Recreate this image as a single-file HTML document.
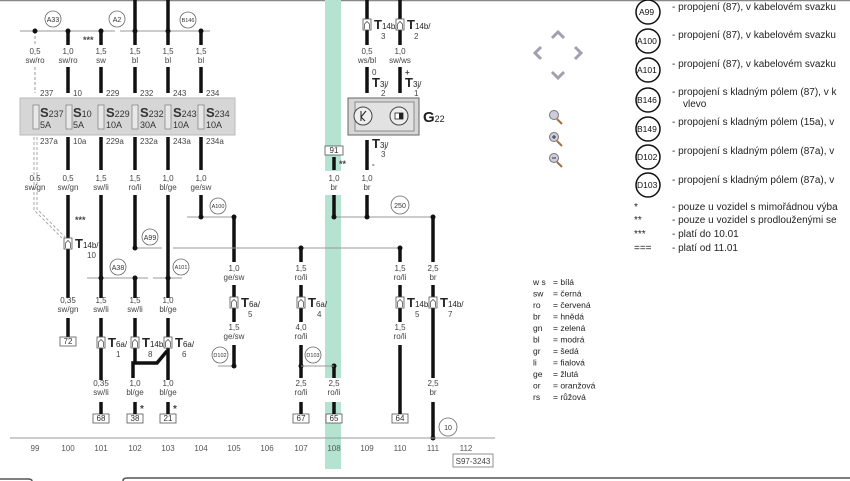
<!DOCTYPE html>
<html><head><meta charset="utf-8"><style>
html,body{margin:0;padding:0;background:#fff;width:850px;height:481px;overflow:hidden}
svg{display:block;font-family:"Liberation Sans",sans-serif}
.w{stroke:#111;stroke-width:3.5;fill:none}
.t{stroke:#999;stroke-width:1;fill:none}
.l{font-size:8px;fill:#444;text-anchor:middle}
.s{font-size:8px;fill:#444}
.c{fill:#fff;stroke:#666;stroke-width:0.8}
.ct{font-size:7px;fill:#333;text-anchor:middle}
.g{font-size:10px;fill:#222}
.k{font-size:10px;fill:#222}
</style></head><body>
<svg width="850" height="481" viewBox="0 0 850 481">
<defs>
<g id="T"><rect x="-4" y="-6" width="8" height="11" fill="#fff" stroke="#555" stroke-width="0.8"/><path d="M-2.5 4V-1L0-3.5L2.5-1V4" fill="none" stroke="#555" stroke-width="0.8"/></g>
</defs>
<line x1="0" y1="0.5" x2="850" y2="0.5" stroke="#888" stroke-width="1.5"/>
<rect x="325" y="0" width="16" height="171" fill="#b5e3d1"/>
<rect x="325" y="195" width="16" height="183" fill="#b5e3d1"/>
<rect x="325" y="402" width="16" height="67" fill="#b5e3d1"/>

<line x1="20" y1="31" x2="115" y2="31" class="t"/>
<line x1="120" y1="31" x2="210" y2="31" class="t"/>
<circle cx="53" cy="19" r="8" class="c"/><text x="53" y="22" class="ct">A33</text>
<circle cx="117" cy="19" r="8" class="c"/><text x="117" y="22" class="ct">A2</text>
<circle cx="188" cy="20" r="8" class="c"/><text x="188" y="22" class="ct" style="font-size:5.5px">B146</text>
<path d="M35 31V45 M35 67V93" stroke="#999" stroke-width="1" stroke-dasharray="3 2" fill="none"/>
<path d="M68 31V45 M68 67V93 M101 31V45 M101 67V93 M135 0V45 M135 67V93 M168 0V45 M168 67V93 M201 31V45 M201 67V93" class="w"/>
<g fill="#111"><circle cx="35" cy="31" r="2.5"/><circle cx="68" cy="31" r="2.5"/><circle cx="101" cy="31" r="2.5"/><circle cx="135" cy="31" r="2.5"/><circle cx="168" cy="31" r="2.5"/><circle cx="201" cy="31" r="2.5"/></g>
<text x="83" y="43" class="s" style="font-size:9px;font-weight:bold">***</text>
<g class="l"><text x="35" y="54">0,5</text><text x="35" y="63">sw/ro</text><text x="68" y="54">1,0</text><text x="68" y="63">sw/ro</text><text x="101" y="54">1,5</text><text x="101" y="63">sw</text><text x="135" y="54">1,5</text><text x="135" y="63">bl</text><text x="168" y="54">1,5</text><text x="168" y="63">bl</text><text x="201" y="54">1,5</text><text x="201" y="63">bl</text></g>
<g class="s"><text x="40" y="96">237</text><text x="73" y="96">10</text><text x="106" y="96">229</text><text x="140" y="96">232</text><text x="173" y="96">243</text><text x="206" y="96">234</text>
<text x="40" y="144">237a</text><text x="73" y="144">10a</text><text x="106" y="144">229a</text><text x="140" y="144">232a</text><text x="173" y="144">243a</text><text x="206" y="144">234a</text></g>
<rect x="20" y="98" width="215" height="37" fill="#d6d6d6" stroke="#bbb"/>
<g fill="#e8e8e8" stroke="#888" stroke-width="0.8"><rect x="33" y="105" width="6" height="24"/><rect x="66" y="105" width="6" height="24"/><rect x="98" y="105" width="6" height="24"/><rect x="132" y="105" width="6" height="24"/><rect x="165" y="105" width="6" height="24"/><rect x="198" y="105" width="6" height="24"/></g>
<g fill="#333"><text x="40" y="117" style="font-size:13px;font-weight:bold">S<tspan style="font-size:9px;font-weight:normal">237</tspan></text><text x="73" y="117" style="font-size:13px;font-weight:bold">S<tspan style="font-size:9px;font-weight:normal">10</tspan></text><text x="106" y="117" style="font-size:13px;font-weight:bold">S<tspan style="font-size:9px;font-weight:normal">229</tspan></text><text x="140" y="117" style="font-size:13px;font-weight:bold">S<tspan style="font-size:9px;font-weight:normal">232</tspan></text><text x="173" y="117" style="font-size:13px;font-weight:bold">S<tspan style="font-size:9px;font-weight:normal">243</tspan></text><text x="206" y="117" style="font-size:13px;font-weight:bold">S<tspan style="font-size:9px;font-weight:normal">234</tspan></text>
<g style="font-size:9px"><text x="40" y="128">5A</text><text x="73" y="128">5A</text><text x="106" y="128">10A</text><text x="140" y="128">30A</text><text x="173" y="128">10A</text><text x="206" y="128">10A</text></g></g>
<path d="M34 137V210 L62 238 M37 137V209 L65 237" stroke="#aaa" stroke-width="1" stroke-dasharray="3 2" fill="none"/>
<path d="M68 137V170 M101 137V170 M135 137V170 M168 137V170 M201 137V170" class="w"/>
<g class="l"><text x="35" y="181">0.5</text><text x="35" y="190">sw/gn</text><text x="68" y="181">0,5</text><text x="68" y="190">sw/gn</text><text x="101" y="181">1,5</text><text x="101" y="190">sw/li</text><text x="135" y="181">1,5</text><text x="135" y="190">ro/li</text><text x="168" y="181">1,0</text><text x="168" y="190">bl/ge</text><text x="201" y="181">1,0</text><text x="201" y="190">ge/sw</text></g>
<path d="M68 195V298 M68 318V338 M101 195V298 M101 318V380 M135 195V248 M135 278V298 M135 318V363 M168 195V298 M168 318V380 M201 195V217 M234 217V262 M234 285V322 M234 345V366" class="w"/>
<path d="M133 378V363H157L167 351" class="w" stroke-width="3"/>
<text x="75" y="223" class="s" style="font-size:9px;font-weight:bold">***</text>
<line x1="135" y1="248" x2="162" y2="248" class="t"/><line x1="173" y1="248" x2="400" y2="248" class="t"/>
<line x1="187" y1="217" x2="234" y2="217" class="t"/>
<line x1="87" y1="278" x2="148" y2="278" class="t"/><line x1="153" y1="278" x2="182" y2="278" class="t"/>
<line x1="218" y1="366" x2="234" y2="366" class="t"/>
<g fill="#111"><circle cx="135" cy="248" r="2.5"/><circle cx="201" cy="217" r="2.5"/><circle cx="234" cy="217" r="2.5"/><circle cx="101" cy="278" r="2.5"/><circle cx="135" cy="278" r="2.5"/><circle cx="168" cy="278" r="2.5"/><circle cx="234" cy="366" r="2.5"/></g>
<circle cx="150" cy="237" r="8" class="c"/><text x="150" y="240" class="ct">A99</text>
<circle cx="218" cy="206" r="8" class="c"/><text x="218" y="208" class="ct" style="font-size:5.5px">A100</text>
<circle cx="118" cy="267" r="8" class="c"/><text x="118" y="270" class="ct">A38</text>
<circle cx="181" cy="267" r="8" class="c"/><text x="181" y="269" class="ct" style="font-size:5.5px">A101</text>
<circle cx="220" cy="355" r="8" class="c"/><text x="220" y="357" class="ct" style="font-size:5.5px">D102</text>
<use href="#T" x="68" y="244"/><text x="75" y="248" class="g" style="font-size:13px;font-weight:bold">T<tspan style="font-size:8px;font-weight:normal">14b/</tspan></text><text x="87" y="258" class="s">10</text>
<g class="l"><text x="68" y="303">0,35</text><text x="68" y="312">sw/gn</text><text x="101" y="303">1,5</text><text x="101" y="312">sw/li</text><text x="135" y="303">1,5</text><text x="135" y="312">sw/li</text><text x="168" y="303">1,0</text><text x="168" y="312">bl/ge</text><text x="234" y="271">1,0</text><text x="234" y="280">ge/sw</text><text x="234" y="330">1,5</text><text x="234" y="339">ge/sw</text></g>
<g fill="#fff" stroke="#555" stroke-width="0.8"><rect x="60" y="337" width="16" height="9"/><rect x="93" y="414" width="16" height="9"/><rect x="127" y="414" width="16" height="9"/><rect x="160" y="414" width="16" height="9"/><rect x="293" y="414" width="16" height="9"/><rect x="326" y="414" width="16" height="9"/><rect x="392" y="414" width="16" height="9"/><rect x="325" y="146" width="18" height="9"/></g>
<g class="l" style="font-size:8px;fill:#333"><text x="68" y="344">72</text><text x="101" y="421">68</text><text x="135" y="421">38</text><text x="168" y="421">21</text><text x="301" y="421">67</text><text x="334" y="421">65</text><text x="400" y="421">64</text><text x="334" y="153">91</text></g>
<use href="#T" x="101" y="343"/><text x="108" y="347" style="font-size:13px;font-weight:bold" fill="#222">T<tspan style="font-size:8px;font-weight:normal">6a/</tspan></text><text x="116" y="357" class="s">1</text>
<use href="#T" x="135" y="343"/><text x="142" y="347" style="font-size:13px;font-weight:bold" fill="#222">T<tspan style="font-size:8px;font-weight:normal">14b/</tspan></text><text x="148" y="357" class="s">8</text>
<use href="#T" x="168" y="343"/><text x="175" y="347" style="font-size:13px;font-weight:bold" fill="#222">T<tspan style="font-size:8px;font-weight:normal">6a/</tspan></text><text x="182" y="357" class="s">6</text>
<use href="#T" x="234" y="303"/><text x="241" y="307" style="font-size:13px;font-weight:bold" fill="#222">T<tspan style="font-size:8px;font-weight:normal">6a/</tspan></text><text x="248" y="317" class="s">5</text>
<g class="l"><text x="101" y="386">0,35</text><text x="101" y="395">sw/li</text><text x="135" y="386">1,0</text><text x="135" y="395">bl/ge</text><text x="168" y="386">1,0</text><text x="168" y="395">bl/ge</text></g>
<path d="M101 402V414 M135 402V414 M168 402V414" class="w"/>
<text x="140" y="412" class="s" style="font-size:10px;font-weight:bold">*</text><text x="173" y="412" class="s" style="font-size:10px;font-weight:bold">*</text>

<path d="M367 0V45 M367 67V93 M400 0V45 M400 67V93 M367 140V170 M367 195V217 M334 157V170 M334 195V217" class="w"/>
<use href="#T" x="367" y="25"/><text x="374" y="29" style="font-size:13px;font-weight:bold" fill="#222">T<tspan style="font-size:8px;font-weight:normal">14b/</tspan></text><text x="381" y="39" class="s">3</text>
<use href="#T" x="400" y="25"/><text x="407" y="29" style="font-size:13px;font-weight:bold" fill="#222">T<tspan style="font-size:8px;font-weight:normal">14b/</tspan></text><text x="414" y="39" class="s">2</text>
<g class="l"><text x="367" y="54">0,5</text><text x="367" y="63">ws/bl</text><text x="400" y="54">1,0</text><text x="400" y="63">sw/ws</text><text x="334" y="181">1,0</text><text x="334" y="190">br</text><text x="367" y="181">1,0</text><text x="367" y="190">br</text></g>
<text x="372" y="75" class="s">0</text><text x="405" y="75" class="s" style="font-weight:bold">+</text>
<text x="372" y="87" style="font-size:13px;font-weight:bold" fill="#222">T<tspan style="font-size:8px;font-weight:normal">3j/</tspan></text><text x="381" y="96" class="s">2</text>
<text x="405" y="87" style="font-size:13px;font-weight:bold" fill="#222">T<tspan style="font-size:8px;font-weight:normal">3j/</tspan></text><text x="414" y="96" class="s">1</text>
<rect x="348" y="98" width="71" height="37" fill="#d6d6d6" stroke="#666"/>
<rect x="355" y="102" width="59" height="29" fill="#e2e2e2" stroke="#777" stroke-width="0.8"/>
<circle cx="363" cy="116" r="9" fill="#eee" stroke="#444"/><path d="M361 111V121 M361 117L366 111 M361 117L365 121" stroke="#222" fill="none"/>
<circle cx="399" cy="116" r="9" fill="#eee" stroke="#444"/><rect x="395" y="113" width="8" height="6" fill="#fff" stroke="#222" stroke-width="0.8"/><rect x="399" y="113" width="4" height="6" fill="#222"/>
<text x="423" y="122" style="font-size:15px;font-weight:bold" fill="#222">G<tspan style="font-size:9px;font-weight:normal">22</tspan></text>
<text x="372" y="148" style="font-size:13px;font-weight:bold" fill="#222">T<tspan style="font-size:8px;font-weight:normal">3j/</tspan></text><text x="381" y="157" class="s">3</text>
<text x="372" y="167" class="s" style="font-weight:bold">-</text>
<text x="339" y="167" class="s" style="font-size:9px;font-weight:bold">**</text>
<line x1="334" y1="217" x2="433" y2="217" class="t"/>
<circle cx="400" cy="205" r="9" class="c"/><text x="400" y="208" class="ct">250</text>
<g fill="#111"><circle cx="334" cy="217" r="2.5"/><circle cx="367" cy="217" r="2.5"/><circle cx="433" cy="217" r="2.5"/><circle cx="301" cy="248" r="2.5"/><circle cx="400" cy="248" r="2.5"/><circle cx="301" cy="366" r="2.5"/><circle cx="334" cy="366" r="2.5"/><circle cx="433" cy="438" r="2.5"/></g>
<path d="M301 248V262 M301 285V322 M301 345V378 M301 402V414 M334 366V378 M334 402V414 M400 248V262 M400 285V322 M400 345V414 M433 217V262 M433 285V378 M433 402V438" class="w"/>
<line x1="301" y1="366" x2="334" y2="366" class="t"/>
<circle cx="313" cy="355" r="8" class="c"/><text x="313" y="357" class="ct" style="font-size:5.5px">D103</text>
<g class="l"><text x="301" y="271">1,5</text><text x="301" y="280">ro/li</text><text x="400" y="271">1,5</text><text x="400" y="280">ro/li</text><text x="433" y="271">2,5</text><text x="433" y="280">br</text>
<text x="301" y="330">4,0</text><text x="301" y="339">ro/li</text><text x="400" y="330">1,5</text><text x="400" y="339">ro/li</text>
<text x="301" y="386">2,5</text><text x="301" y="395">ro/li</text><text x="334" y="386">2,5</text><text x="334" y="395">ro/li</text><text x="433" y="386">2,5</text><text x="433" y="395">br</text></g>
<use href="#T" x="301" y="303"/><text x="308" y="307" style="font-size:13px;font-weight:bold" fill="#222">T<tspan style="font-size:8px;font-weight:normal">6a/</tspan></text><text x="317" y="317" class="s">4</text>
<use href="#T" x="400" y="303"/><text x="407" y="307" style="font-size:13px;font-weight:bold" fill="#222">T<tspan style="font-size:8px;font-weight:normal">14b/</tspan></text><text x="415" y="317" class="s">5</text>
<use href="#T" x="433" y="303"/><text x="440" y="307" style="font-size:13px;font-weight:bold" fill="#222">T<tspan style="font-size:8px;font-weight:normal">14b/</tspan></text><text x="448" y="317" class="s">7</text>
<circle cx="448" cy="427" r="9" class="c"/><text x="448" y="430" class="ct">10</text>
<line x1="10" y1="438" x2="495" y2="438" stroke="#999" stroke-width="1"/>
<g class="l" style="fill:#555"><text x="35" y="451">99</text><text x="68" y="451">100</text><text x="101" y="451">101</text><text x="135" y="451">102</text><text x="168" y="451">103</text><text x="201" y="451">104</text><text x="234" y="451">105</text><text x="267" y="451">106</text><text x="301" y="451">107</text><text x="334" y="451">108</text><text x="367" y="451">109</text><text x="400" y="451">110</text><text x="433" y="451">111</text><text x="466" y="451">112</text></g>
<rect x="453" y="454" width="40" height="13" fill="#fff" stroke="#777" stroke-width="0.8"/><text x="473" y="464" class="l" style="fill:#444">S97-3243</text>
<path d="M0 479H28Q32 479 32 481 M123 481Q123 478 127 478H850" stroke="#555" stroke-width="1.5" fill="none"/>

<g stroke="#a0a0b0" stroke-width="3" fill="none"><path d="M552 38L558 32L564 38"/><path d="M541 47L535 53L541 59"/><path d="M575 47L581 53L575 59"/><path d="M552 72L558 78L564 72"/></g>
<g stroke="#777" fill="#ccd"><circle cx="554" cy="115" r="4.5"/><circle cx="554" cy="137" r="4.5"/><circle cx="554" cy="158" r="4.5"/></g>
<g stroke="#a07040" stroke-width="2"><path d="M557 119L562 124M557 141L562 146M557 162L562 167"/></g>
<path d="M552 137H556M554 135V139M552 158H556" stroke="#333" stroke-width="1"/>
<g fill="#fff" stroke="#111" stroke-width="1.5"><circle cx="648" cy="12" r="12"/><circle cx="648" cy="41" r="12"/><circle cx="648" cy="70" r="12"/><circle cx="648" cy="100" r="12"/><circle cx="648" cy="129" r="12"/><circle cx="648" cy="157" r="12"/><circle cx="648" cy="185" r="12"/></g>
<g style="font-size:8.5px;fill:#111"><text x="639" y="15">A99</text><text x="637" y="44">A100</text><text x="637" y="73">A101</text><text x="637" y="103">B146</text><text x="637" y="132">B149</text><text x="637" y="160">D102</text><text x="637" y="188">D103</text></g>
<g class="k"><text x="672" y="10">-  propojení (87), v kabelovém svazku</text><text x="672" y="38">-  propojení (87), v kabelovém svazku</text><text x="672" y="67">-  propojení (87), v kabelovém svazku</text><text x="672" y="95">-  propojení s kladným pólem (87), v k</text><text x="683" y="107">vlevo</text><text x="672" y="125">-  propojení s kladným pólem (15a), v</text><text x="672" y="154">-  propojení s kladným pólem (87a), v</text><text x="672" y="183">-  propojení s kladným pólem (87a), v</text>
<text x="634" y="210">*</text><text x="672" y="210">-  pouze u vozidel s mimořádnou výba</text>
<text x="634" y="223">**</text><text x="672" y="223">-  pouze u vozidel s prodlouženými se</text>
<text x="634" y="237">***</text><text x="672" y="237">-  platí do 10.01</text>
<text x="634" y="251">===</text><text x="672" y="251">-  platí od 11.01</text></g>
<g style="font-size:8.5px;fill:#222"><text x="533" y="285">w s</text><text x="553" y="285">=  bílá</text>
<text x="533" y="296.5">sw</text><text x="553" y="296.5">=  černá</text>
<text x="533" y="308">ro</text><text x="553" y="308">=  červená</text>
<text x="533" y="319.5">br</text><text x="553" y="319.5">=  hnědá</text>
<text x="533" y="331">gn</text><text x="553" y="331">=  zelená</text>
<text x="533" y="342.5">bl</text><text x="553" y="342.5">=  modrá</text>
<text x="533" y="354">gr</text><text x="553" y="354">=  šedá</text>
<text x="533" y="365.5">li</text><text x="553" y="365.5">=  fialová</text>
<text x="533" y="377">ge</text><text x="553" y="377">=  žlutá</text>
<text x="533" y="388.5">or</text><text x="553" y="388.5">=  oranžová</text>
<text x="533" y="400">rs</text><text x="553" y="400">=  růžová</text></g>
</svg>
</body></html>
